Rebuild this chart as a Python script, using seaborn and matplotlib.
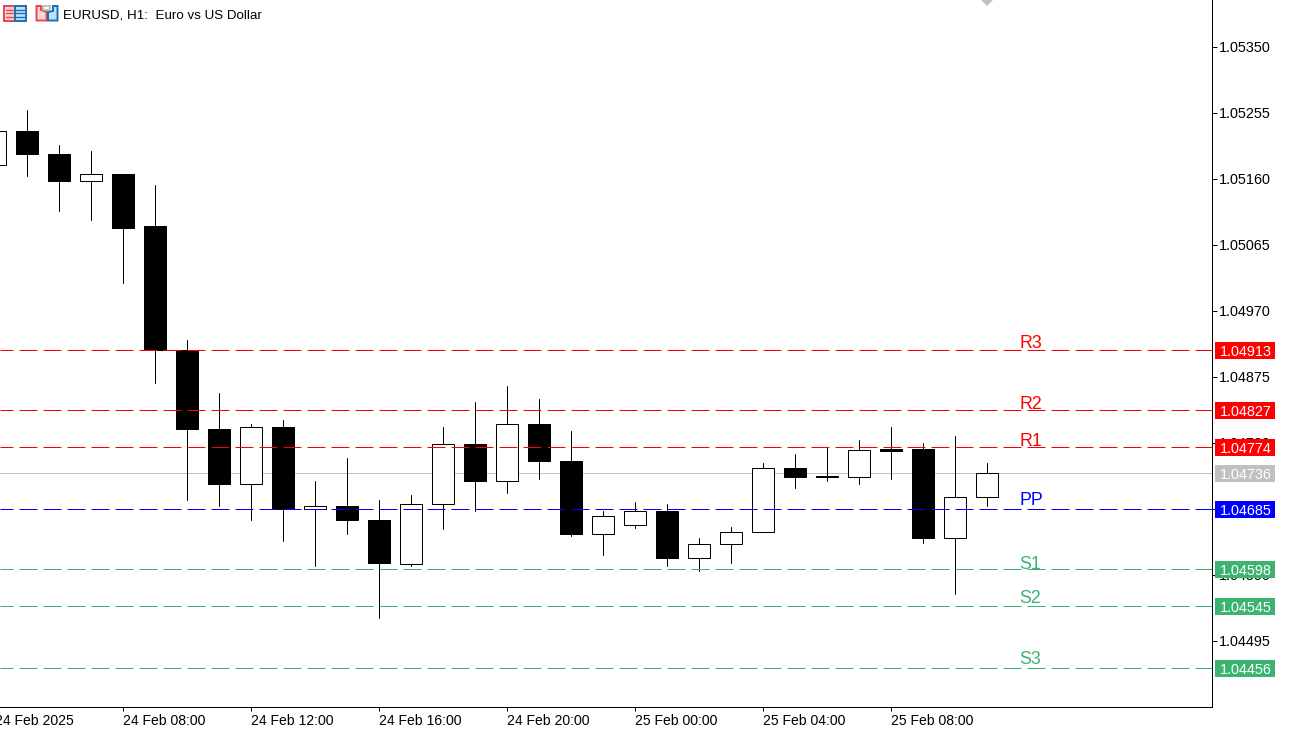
#!/usr/bin/env python

import numpy as np
import pandas as pd
import matplotlib
matplotlib.use('Agg')
import matplotlib.pyplot as plt
from matplotlib.patches import Rectangle, Polygon
import seaborn as sns

# hourly candles, first one is 24 Feb 04:00 (prices in 1e-5)
bar_open = [105180, 105229, 105196, 105157, 105167, 105091, 104913, 104800, 104720, 104803, 104685,
            104689, 104669, 104605, 104692, 104778, 104725, 104807, 104754, 104649, 104661, 104682,
            104614, 104634, 104651, 104744, 104732, 104730, 104771, 104771, 104642, 104702]
bar_high = [105229, 105259, 105209, 105199, 105167, 105151, 104928, 104851, 104807, 104813, 104725,
            104758, 104698, 104705, 104803, 104839, 104861, 104843, 104796, 104682, 104694, 104691,
            104642, 104658, 104751, 104764, 104773, 104784, 104802, 104779, 104790, 104751]
bar_low = [105180, 105163, 105114, 105101, 105010, 104866, 104697, 104688, 104668, 104638, 104602,
           104648, 104527, 104602, 104655, 104681, 104707, 104727, 104645, 104618, 104657, 104603,
           104595, 104606, 104651, 104714, 104724, 104721, 104727, 104635, 104562, 104688]
bar_close = [105229, 105195, 105156, 105167, 105089, 104913, 104799, 104720, 104803, 104685, 104689,
             104668, 104606, 104692, 104778, 104725, 104807, 104753, 104649, 104674, 104682, 104614,
             104634, 104651, 104744, 104731, 104730, 104769, 104768, 104642, 104702, 104736]

price_ticks = [1.05350, 1.05255, 1.05160, 1.05065, 1.04970, 1.04875, 1.04780, 1.04685, 1.04590, 1.04495]
time_labels = ['24 Feb 08:00', '24 Feb 12:00', '24 Feb 16:00', '24 Feb 20:00',
               '25 Feb 00:00', '25 Feb 04:00', '25 Feb 08:00']
time_ticks = [4, 8, 12, 16, 20, 24, 28]

level_names = ['R3', 'R2', 'R1', 'PP', 'S1', 'S2', 'S3']
level_prices = [1.04913, 1.04827, 1.04774, 1.04685, 1.04598, 1.04545, 1.04456]
level_colors = ['#ff0000', '#ff0000', '#ff0000', '#0000ff', '#3cb371', '#3cb371', '#3cb371']
bid_price = 1.04736

W, H = 1291, 729
AX_W, AX_H = 1212, 707
FONT = 'Liberation Sans'
PX = 0.72  # one pixel in points at dpi 100
PT = 1.4394e-5  # price per pixel
Y0 = 46.55  # pixel row of 1.05350
label_lift = [2, 1, 1, 4, 0, 3, 4]  # how far each level name sits above its line, pixels


def bar_x(px):
    # pixel column to bar number, bar 0 sits on x=-5
    return (px + 5) / 32


def price_at(py):
    return 1.05350 - (py - Y0) * PT


def draw_tag(ax, price, color, label):
    tr = ax.get_yaxis_transform()
    top = round(Y0 + (1.05350 - price) / PT) - 8
    ax.add_patch(Rectangle((1215 / AX_W, price_at(top + 17)), 60 / AX_W, 17 * PT,
                           transform=tr, facecolor=color, edgecolor='none', clip_on=False, zorder=6))
    ax.text(1219.5 / AX_W, price_at(top + 8.5), label, transform=tr, color='white', fontsize=10.4, family=FONT,
            va='center_baseline', ha='left', clip_on=False, zorder=7)


def draw_icons(fig):
    ov = fig.add_axes([0, 0, 1, 1], facecolor='none')
    ov.set_xlim(0, W)
    ov.set_ylim(H, 0)
    ov.axis('off')
    red, pink, blue, sky = '#e5484d', '#fbd5cf', '#1c6fb5', '#bfe0f7'
    ov.add_patch(Rectangle((3.5, 5.5), 11, 15, fc=pink, ec=red, lw=1.4))
    ov.add_patch(Rectangle((14.5, 5.5), 11, 15, fc=sky, ec=blue, lw=1.4))
    for yy in [9.5, 13, 16.5]:
        ov.plot([6, 13], [yy, yy], color=red, lw=1.0)
        ov.plot([16, 24], [yy, yy], color=blue, lw=1.0)
    ov.add_patch(Polygon([(36.5, 6), (41, 6), (41, 10), (46.5, 12), (46.5, 20.5), (36.5, 20.5)],
                         fc=pink, ec=red, lw=1.4))
    ov.add_patch(Polygon([(57.5, 6), (53, 6), (53, 11), (48, 12), (48, 20.5), (57.5, 20.5)],
                         fc=sky, ec=blue, lw=1.4))
    ov.add_patch(Rectangle((43, 5.5), 7, 4, fc='white', ec='#b5b5b5', lw=1.2))
    ov.text(63, 18.5, 'EURUSD, H1:  Euro vs US Dollar', fontsize=9.65, family=FONT, color='black',
            va='baseline', ha='left')


def plot():
    sns.set_theme(style='white')
    fig = plt.figure(figsize=(W / 100, H / 100), dpi=100, facecolor='white')
    ax = fig.add_axes([0, 1 - AX_H / H, AX_W / W, AX_H / H], facecolor='white')

    d = pd.DataFrame({'open': bar_open, 'high': bar_high, 'low': bar_low, 'close': bar_close}) / 1e5
    d['bar'] = range(len(d))
    wicks = d.melt(id_vars='bar', value_vars=['high', 'low'], value_name='price').sort_values('bar')

    ax.axhline(bid_price, color='#c0c0c0', lw=PX, zorder=1)

    sns.lineplot(data=wicks, x='bar', y='price', units='bar', estimator=None, sort=False, color='black',
                 lw=PX, ax=ax, legend=False, zorder=2)

    up = d[d['close'] >= d['open']]
    down = d[d['close'] < d['open']]
    ax.bar(up['bar'], up['close'] - up['open'], bottom=up['open'], width=22 / 32, facecolor='white',
           edgecolor='black', linewidth=PX, zorder=3)
    ax.bar(down['bar'], down['open'] - down['close'], bottom=down['close'], width=22 / 32, facecolor='black',
           edgecolor='black', linewidth=PX, zorder=3)

    for name, price, color, lift in zip(level_names, level_prices, level_colors, label_lift):
        ax.axhline(price, color=color, lw=PX, linestyle=(5, (18, 6)), dash_capstyle='butt', zorder=4)
        ax.annotate(name, xy=(bar_x(1019.5), price), xytext=(0, lift * PX), textcoords='offset points',
                    color=color, fontsize=12.8, family=FONT, va='baseline', ha='left', zorder=5)
        draw_tag(ax, price, color, f'{price:.5f}')
    draw_tag(ax, bid_price, '#c0c0c0', f'{bid_price:.5f}')

    # grey marker cut by the top edge
    ax.plot([31], [price_at(0)], marker='D', ms=6.1, color='#c0c0c0', mew=0, zorder=4)

    ax.set_xlim(bar_x(0), bar_x(AX_W))
    ax.set_ylim(price_at(AX_H), price_at(0))
    ax.set_xlabel('')
    ax.set_ylabel('')

    ax.yaxis.tick_right()
    ax.set_yticks(price_ticks, [f'{p:.5f}' for p in price_ticks], fontsize=10.4, family=FONT, color='black')
    ax.set_xticks(time_ticks, time_labels, fontsize=10.1, family=FONT, color='black', ha='left')
    ax.tick_params(axis='y', right=True, length=3.4, width=PX, color='black', pad=1.5)
    ax.tick_params(axis='x', bottom=True, length=3.0, width=PX, color='black', pad=2.0)
    # first time label hangs off the left edge, its tick is out of view
    ax.annotate('24 Feb 2025', xy=(bar_x(-5), 0), xycoords=ax.get_xaxis_transform(), xytext=(0, -5.0),
                textcoords='offset points', fontsize=10.1, family=FONT, color='black', ha='left', va='top',
                annotation_clip=False)

    for side in ['top', 'left']:
        ax.spines[side].set_visible(False)
    for side in ['right', 'bottom']:
        ax.spines[side].set_color('black')
        ax.spines[side].set_linewidth(PX)

    draw_icons(fig)
    fig.savefig('out.png', dpi=100, facecolor='white')


if __name__ == '__main__':
    plot()
